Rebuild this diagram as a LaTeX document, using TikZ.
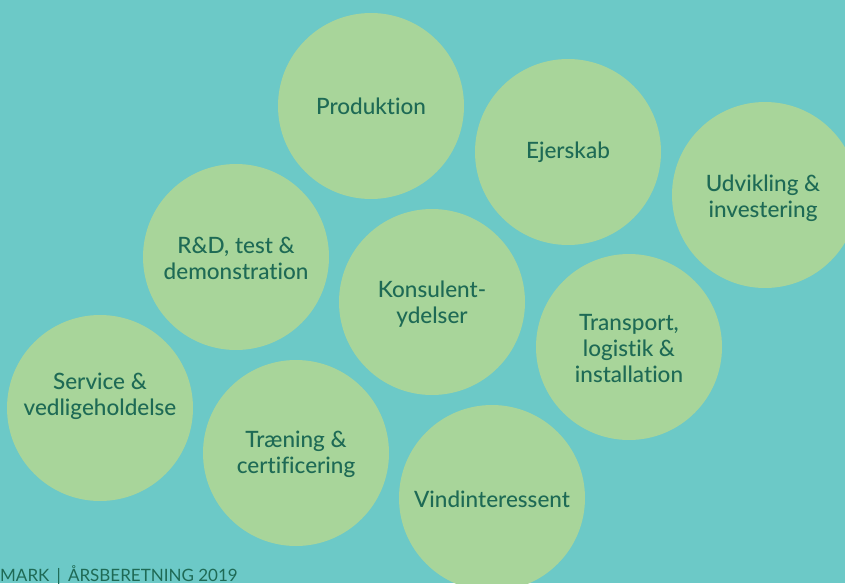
\documentclass[tikz,border=0pt]{standalone}
\usepackage{fontspec}
\setmainfont{Lato}[Ligatures=NoCommon]
\newfontfamily\medfont{Lato}[UprightFont=* Medium,Ligatures=NoCommon]
\definecolor{bg}{HTML}{6CC9C7}
\definecolor{circ}{HTML}{A8D59A}
\definecolor{txt}{HTML}{1E6A55}
\begin{document}
\begin{tikzpicture}[x=1pt,y=-1pt,
  bubble/.style={circle,fill=circ,minimum size=186pt,inner sep=0pt},
  lbl/.style={text=txt,align=center,font=\medfont\fontsize{22.5}{26}\selectfont}]
\useasboundingbox (0,0) rectangle (845,583);
\clip (0,0) rectangle (845,583);
\fill[bg] (0,0) rectangle (845,583);
\node[bubble] (prod) at (371,106) {};
\node[bubble] (ejer) at (568,152) {};
\node[bubble] (udv) at (765,195) {};
\node[bubble] (rd) at (236,257) {};
\node[bubble] (kons) at (432,302) {};
\node[bubble] (trans) at (629,347) {};
\node[bubble] (serv) at (100,408) {};
\node[bubble] (tren) at (296,453) {};
\node[bubble] (vind) at (492,498) {};
\node[lbl] at (371,106) {Produktion};
\node[lbl] at (568,152) {Ejerskab};
\node[lbl] at (763,198) {Udvikling \&\\investering};
\node[lbl] at (236,258) {R\&D, test \&\\demonstration};
\node[lbl] at (432,304) {Konsulent-\\ydelser};
\node[lbl] at (629,349) {Transport,\\logistik \&\\installation};
\node[lbl] at (100,396) {Service \&\\vedligeholdelse};
\node[lbl] at (296,454) {Træning \&\\certificering};
\node[lbl] at (492,499) {Vindinteressent};
\node[anchor=base west,inner sep=0pt,text=txt,font=\fontsize{17}{19}\selectfont] (foot) at (0,581) {MARK \,|\, ÅRSBERETNING 2019};
\end{tikzpicture}
\end{document}
